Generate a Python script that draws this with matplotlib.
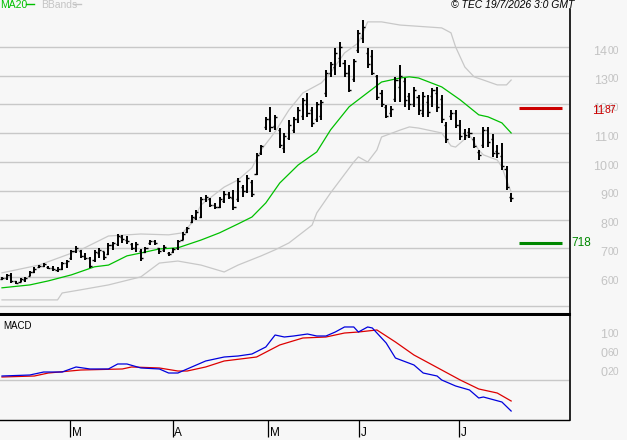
import matplotlib
matplotlib.use("Agg")
import matplotlib.pyplot as plt
import numpy as np
from matplotlib.lines import Line2D

plt.rcParams['font.family'] = ['Liberation Sans', 'DejaVu Sans']

# ---------------- data ----------------
highs = [601, 611, 615, 587, 597, 601, 622, 636, 642, 649, 639, 639, 636, 653, 660, 695, 708, 695, 684, 670,
         695, 702, 688, 719, 722, 750, 747, 743, 719, 722, 698, 705, 729, 729, 702, 712, 688, 702, 729, 757,
         775, 816, 834, 879, 886, 875, 858, 879, 900, 896, 903, 945, 920, 955, 938, 1032, 1060, 1157, 1192, 1164,
         1119, 1101, 1146, 1157, 1192, 1223, 1240, 1192, 1209, 1216, 1320, 1348, 1397, 1417, 1355, 1337, 1358, 1459, 1494, 1397,
         1390, 1303, 1251, 1198, 1195, 1296, 1337, 1292, 1240, 1261, 1233, 1244, 1233, 1258, 1261, 1233, 1139, 1181, 1181, 1146,
         1115, 1119, 1087, 1042, 1122, 1122, 1098, 1060, 1066, 986, 893]
lows = [590, 590, 580, 576, 583, 583, 604, 615, 632, 636, 629, 622, 618, 625, 632, 660, 684, 667, 660, 632,
        653, 667, 660, 677, 695, 708, 719, 715, 695, 688, 656, 684, 712, 712, 681, 688, 674, 684, 695, 729,
        754, 788, 799, 806, 861, 844, 837, 841, 858, 872, 834, 861, 879, 893, 879, 955, 1025, 1112, 1105, 1112,
        1049, 1032, 1077, 1101, 1136, 1146, 1157, 1122, 1139, 1146, 1226, 1296, 1303, 1331, 1296, 1244, 1278, 1379, 1414, 1327,
        1303, 1216, 1192, 1153, 1157, 1209, 1209, 1192, 1181, 1192, 1164, 1157, 1157, 1192, 1174, 1136, 1066, 1146, 1119, 1077,
        1077, 1084, 1049, 1007, 1049, 1053, 1018, 1014, 973, 903, 861]
opens = [595, 598, 606, 585, 582, 590, 605, 618, 634, 640, 636, 633, 626, 630, 648, 665, 690, 690, 675, 665,
         660, 685, 690, 680, 712, 715, 740, 730, 715, 700, 690, 688, 718, 725, 700, 695, 685, 688, 700, 730,
         758, 790, 805, 810, 870, 870, 850, 845, 865, 890, 875, 870, 915, 900, 930, 960, 1030, 1120, 1150, 1125,
         1110, 1050, 1085, 1110, 1150, 1160, 1200, 1180, 1150, 1160, 1240, 1310, 1330, 1360, 1345, 1310, 1290, 1390, 1430, 1380,
         1370, 1300, 1240, 1190, 1170, 1220, 1260, 1280, 1230, 1200, 1225, 1170, 1210, 1230, 1240, 1220, 1130, 1160, 1170, 1130,
         1100, 1105, 1080, 1035, 1060, 1110, 1080, 1040, 1020, 975, 880]
closes = [598, 606, 585, 580, 592, 598, 618, 630, 638, 645, 633, 628, 630, 648, 655, 690, 700, 675, 668, 640,
          688, 695, 670, 712, 718, 742, 732, 725, 700, 715, 665, 700, 725, 718, 690, 705, 680, 698, 725, 750,
          770, 810, 825, 870, 878, 850, 845, 870, 890, 880, 845, 935, 900, 945, 890, 1025, 1055, 1150, 1120, 1155,
          1060, 1090, 1130, 1150, 1180, 1215, 1170, 1135, 1200, 1210, 1310, 1340, 1380, 1400, 1310, 1250, 1350, 1450, 1470, 1340,
          1310, 1225, 1200, 1160, 1185, 1285, 1300, 1215, 1200, 1250, 1180, 1230, 1175, 1250, 1190, 1150, 1080, 1170, 1130, 1090,
          1095, 1100, 1055, 1025, 1110, 1070, 1030, 1030, 985, 915, 875]

ma_idx = [0, 6, 10, 15, 20, 23, 27, 30, 34, 38, 43, 47, 51, 54, 57, 60, 64, 68, 71, 75, 82, 86, 88, 90, 95, 99, 103, 105, 108, 110]
ma_val = [563, 573, 587, 608, 636, 642, 674, 684, 698, 702, 729, 754, 785, 809, 858, 927, 990, 1035, 1112, 1192,
          1278, 1292, 1296, 1292, 1261, 1216, 1164, 1157, 1136, 1101]

bbu_idx = [0, 8, 17, 23, 30, 36, 39, 41, 43, 48, 51, 54, 56, 59, 62, 65, 69, 71, 74, 77, 79, 82, 86, 95, 97, 98, 100, 102, 104, 107, 109, 110]
bbu_val = [615, 642, 695, 743, 750, 747, 754, 788, 851, 913, 938, 980, 1042, 1105, 1181, 1240, 1275, 1310, 1379, 1414,
           1487, 1487, 1476, 1466, 1449, 1400, 1330, 1296, 1285, 1268, 1268, 1285]

bbl_idx = [0, 12, 13, 17, 23, 30, 34, 38, 43, 48, 51, 56, 59, 62, 67, 68, 71, 76, 77, 79, 81, 82, 86, 88, 90, 95, 97, 98, 101, 103, 104, 107, 108, 109, 110]
bbl_val = [521, 521, 545, 556, 573, 601, 649, 656, 642, 618, 642, 674, 695, 719, 781, 823, 893, 1000, 1018, 1000,
           1042, 1087, 1111, 1122, 1118, 1101, 1056, 1052, 1094, 1042, 1025, 1007, 983, 938, 896]

macd_idx = [0, 6, 9, 13, 16, 19, 23, 25, 27, 30, 34, 36, 38, 41, 44, 48, 51, 54, 57, 59, 61, 63, 66, 68, 70, 72, 74,
            76, 77, 79, 80, 83, 85, 89, 91, 94, 95, 98, 101, 103, 104, 108, 110]
macd_val = [8.4, 10.5, 16.8, 16.8, 27.4, 23.2, 23.2, 33.7, 33.7, 25.3, 23.2, 14.7, 14.7, 27.4, 40, 48.4, 50.5, 54.7,
            69.5, 94.7, 90.5, 92.6, 96.8, 92.6, 92.6, 101, 111.6, 111.6, 101, 111.6, 109.5, 77.9, 46.3, 31.6, 14.7,
            8.4, 0, -12.6, -21, -37.9, -35.8, -46.3, -65.3]
sig_idx = [0, 7, 10, 17, 26, 28, 34, 38, 40, 44, 48, 55, 60, 65, 70, 74, 77, 81, 85, 89, 93, 99, 103, 107, 110]
sig_val = [6.3, 8.4, 14.7, 21, 23.2, 27.4, 25.3, 18.9, 18.9, 27.4, 40, 48.4, 73.7, 88.4, 90.5, 98.9, 101, 105.3, 80,
           52.6, 31.6, 0, -18.9, -27.4, -44.2]

price_grid = [500, 600, 700, 800, 900, 1000, 1100, 1200, 1300, 1400]
price_labels = [("5", "00"), ("6", "00"), ("7", "00"), ("8", "00"), ("9", "00"),
                ("10", "00"), ("11", "00"), ("12", "00"), ("13", "00"), ("14", "00")]
macd_label_vals = [100, 60, 20]
macd_labels = [("1", "00"), ("0", "60"), ("0", "20")]

month_pos = [14.7, 36.9, 57.5, 77.1, 98.7]
month_names = ["M", "A", "M", "J", "J"]

level_red = 1187
level_green = 718
level_x = (111.7, 120.9)

# ---------------- figure ----------------
W, H = 627, 440
bg = '#f7f7f7'
fig = plt.figure(figsize=(W / 100, H / 100), dpi=100, facecolor=bg)

def fx(px):
    return px / W

def fy(py):
    return 1 - py / H

ax = fig.add_axes([0, fy(314), fx(569), 314 / H])
ax.set_facecolor(bg)
ax.set_xlim(-0.43, 122.5)
ax.set_ylim(472, 1563)
for s in ['top', 'left', 'right']:
    ax.spines[s].set_visible(False)
ax.spines['bottom'].set_linewidth(2.2)
ax.spines['bottom'].set_color('black')
ax.set_xticks([])
ax.set_yticks([])

grid_c = '#c8c8c8'
for g in price_grid:
    ax.axhline(g, color=grid_c, lw=1.0, zorder=1)

idx = np.arange(len(highs))
ax.plot(bbu_idx, bbu_val, color='#c8c8c8', lw=0.9, zorder=2)
ax.plot(bbl_idx, bbl_val, color='#c8c8c8', lw=0.9, zorder=2)
ax.plot(ma_idx, ma_val, color='#00c000', lw=0.9, zorder=3)

ax.vlines(idx, lows, highs, color='black', lw=1.4, zorder=4)
ax.hlines(opens, idx - 0.45, idx, color='black', lw=1.0, zorder=4)
ax.hlines(closes, idx, idx + 0.45, color='black', lw=1.0, zorder=4)

ax.hlines([level_red], level_x[0], level_x[1], color='#cc0000', lw=2.2, zorder=5)
ax.hlines([level_green], level_x[0], level_x[1], color='#008800', lw=2.2, zorder=5)

lab_c = '#c4c4c4'
xr = 619 / 569  # axes fraction for right edge of labels
for g, (big, small) in zip(price_grid[1:], price_labels[1:]):
    ax.annotate(small, xy=(xr, g), xycoords=('axes fraction', 'data'), xytext=(0, -2.6),
                textcoords='offset points', ha='right', va='center', fontsize=7.5, color=lab_c,
                annotation_clip=False)
    ax.annotate(big, xy=(xr, g), xycoords=('axes fraction', 'data'), xytext=(-8.3, -3.6),
                textcoords='offset points', ha='right', va='center', fontsize=9, color=lab_c,
                annotation_clip=False)

# level labels
ax.annotate("87", xy=(xr, level_red), xycoords=('axes fraction', 'data'), xytext=(-2.0, -1.5),
            textcoords='offset points', ha='right', va='center', fontsize=7.5, color='#cc0000',
            annotation_clip=False)
ax.annotate("11", xy=(xr, level_red), xycoords=('axes fraction', 'data'), xytext=(-10.2, -2.2),
            textcoords='offset points', ha='right', va='center', fontsize=8.5, color='#cc0000',
            annotation_clip=False)
ax.annotate(str(level_green), xy=(571 / 569, level_green), xycoords=('axes fraction', 'data'),
            xytext=(0, 0), textcoords='offset points', ha='left', va='center', fontsize=8.5,
            color='#008800', annotation_clip=False)

# legend & copyright
fig.text(fx(0), fy(5), "MA20", color='#00c000', fontsize=7.5, ha='left', va='center')
fig.add_artist(Line2D([fx(26), fx(34)], [fy(4.5), fy(4.5)], color='#00c000', lw=1.0))
fig.text(fx(41), fy(5), "BBands", color='#c4c4c4', fontsize=7.5, ha='left', va='center')
fig.add_artist(Line2D([fx(73), fx(81)], [fy(4.5), fy(4.5)], color='#c4c4c4', lw=1.0))
fig.text(fx(574), fy(5), "© TEC 19/7/2026 3:0 GMT", color='black', fontsize=7.5, style='italic',
         ha='right', va='center')

# ---------------- MACD ----------------
ax2 = fig.add_axes([0, fy(420), fx(569), 104 / H])
ax2.set_facecolor(bg)
ax2.set_xlim(-0.43, 122.5)
ax2.set_ylim(-84.2, 134.7)
for s in ['top', 'left', 'right']:
    ax2.spines[s].set_visible(False)
ax2.spines['bottom'].set_linewidth(1.0)
ax2.axhline(0, color='#c8c8c8', lw=1.0, zorder=1)
ax2.plot(sig_idx, sig_val, color='#dd0000', lw=0.9, zorder=3)
ax2.plot(macd_idx, macd_val, color='#0000dd', lw=0.9, zorder=4)
ax2.set_yticks([])
ax2.set_xticks(month_pos)
ax2.set_xticklabels([])
ax2.tick_params(axis='x', direction='out', length=12.5, width=0.9, color='black')
for p, m in zip(month_pos, month_names):
    ax2.annotate(m, xy=(p, 0), xycoords=('data', 'axes fraction'), xytext=(1.2, -9.2),
                 textcoords='offset points', ha='left', va='center', fontsize=8.5, color='black',
                 annotation_clip=False)
ax2.text(0.005, 0.9, "MACD", transform=ax2.transAxes, fontsize=7, color='black', ha='left', va='center')

for v, (big, small) in zip(macd_label_vals, macd_labels):
    ax2.annotate(small, xy=(xr, v), xycoords=('axes fraction', 'data'), xytext=(0, -1.0),
                 textcoords='offset points', ha='right', va='center', fontsize=7.5, color=lab_c,
                 annotation_clip=False)
    ax2.annotate(big, xy=(xr, v), xycoords=('axes fraction', 'data'), xytext=(-8.3, -2.0),
                 textcoords='offset points', ha='right', va='center', fontsize=9, color=lab_c,
                 annotation_clip=False)

# right border line
fig.add_artist(Line2D([fx(569.5), fx(569.5)], [fy(9), fy(420)], color='black', lw=1.2))

fig.savefig("out.png", dpi=100, facecolor=bg)
